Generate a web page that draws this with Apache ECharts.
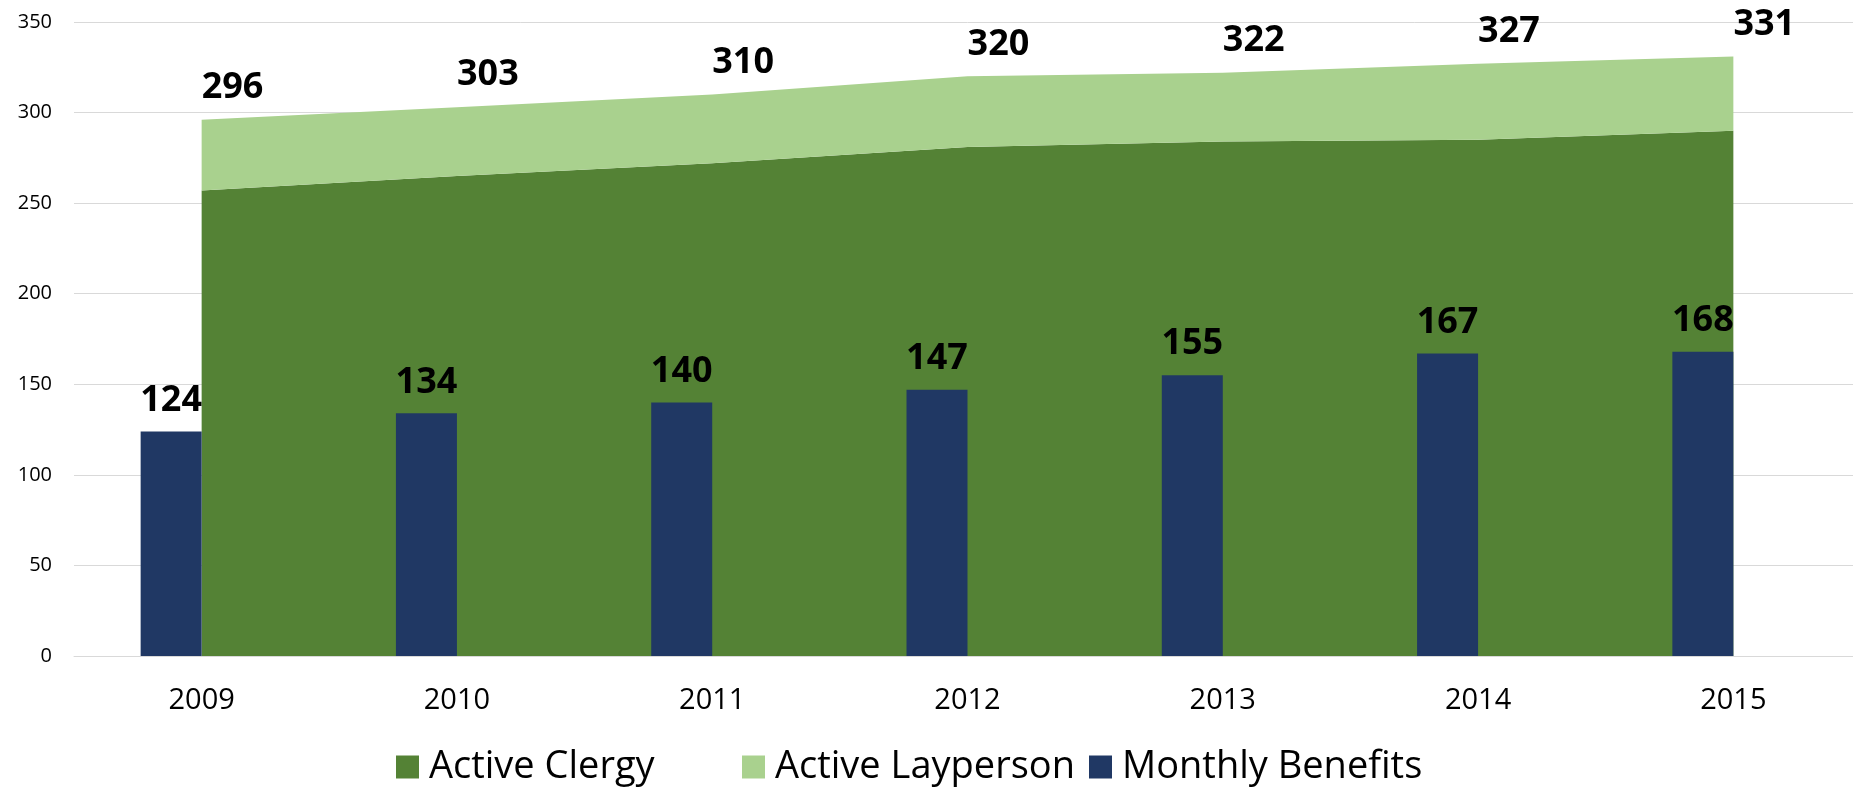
<!DOCTYPE html>
<html>
<head>
<meta charset="utf-8">
<script src="https://cdn.jsdelivr.net/npm/echarts@6/dist/echarts.min.js"></script>
<style>
html,body{margin:0;padding:0;background:#fff;overflow:hidden;}
#chart{width:1861px;height:787px;}
</style>
</head>
<body>
<div id="chart"></div>
<script>
var years = ['2009','2010','2011','2012','2013','2014','2015'];
var activeClergy = [257, 265, 272, 281, 284, 285, 290];
var activeLayperson = [39, 38, 38, 39, 38, 42, 41];
var monthlyBenefits = [124, 134, 140, 147, 155, 167, 168];
var yTicks = [0, 50, 100, 150, 200, 250, 300, 350];

var FONT = '"Open Sans", "Liberation Sans", sans-serif';
var chart = echarts.init(document.getElementById('chart'));

function legendAt(name, left) {
  return {
    data: [name],
    left: left,
    top: 748,
    padding: 0,
    icon: 'rect',
    itemWidth: 23,
    itemHeight: 23,
    textStyle: {fontFamily: FONT, fontSize: 38, color: '#000', padding: [0, 0, 0, 5]},
    selectedMode: false
  };
}

var option = {
  animation: false,
  backgroundColor: '#fff',
  grid: {left: 74, right: 0, top: 22, bottom: 131, containLabel: false, outerBoundsMode: 'none'},
  legend: [
    legendAt('Active Clergy', 396),
    legendAt('Active Layperson', 742),
    legendAt('Monthly Benefits', 1089)
  ],
  xAxis: {
    type: 'category',
    data: years,
    boundaryGap: true,
    axisLine: {show: true, lineStyle: {color: '#d9d9d9', width: 1}},
    axisTick: {show: false},
    axisLabel: {fontFamily: FONT, fontSize: 29, color: '#000', margin: 30}
  },
  yAxis: {
    type: 'value',
    min: yTicks[0],
    max: yTicks[yTicks.length - 1],
    interval: 50,
    axisLine: {show: false},
    axisTick: {show: false},
    axisLabel: {fontFamily: FONT, fontSize: 20, color: '#000', margin: 22},
    splitLine: {lineStyle: {color: '#d9d9d9', width: 1}}
  },
  series: [
    {
      name: 'Active Clergy',
      type: 'line',
      stack: 'total',
      data: activeClergy,
      symbol: 'circle',
      symbolSize: 0.1,
      showSymbol: true,
      lineStyle: {width: 0},
      itemStyle: {color: '#548235'},
      areaStyle: {color: '#548235', opacity: 1},
      z: 1
    },
    {
      name: 'Active Layperson',
      type: 'line',
      stack: 'total',
      data: activeLayperson,
      symbol: 'circle',
      symbolSize: 0.1,
      showSymbol: true,
      lineStyle: {width: 0},
      itemStyle: {color: '#a9d18e'},
      areaStyle: {color: '#a9d18e', opacity: 1},
      label: {
        show: true,
        position: 'right',
        distance: 0,
        offset: [0, -32],
        fontFamily: FONT,
        fontSize: 36,
        fontWeight: 'bold',
        color: '#000',
        formatter: function (p) {
          return activeClergy[p.dataIndex] + activeLayperson[p.dataIndex];
        }
      },
      z: 1
    },
    {
      name: 'Monthly Benefits',
      type: 'bar',
      data: monthlyBenefits,
      barWidth: 61,
      barGap: '0%',
      itemStyle: {color: '#203864'},
      label: {
        show: true,
        position: 'top',
        distance: 13,
        fontFamily: FONT,
        fontSize: 36,
        fontWeight: 'bold',
        color: '#000'
      },
      z: 3
    },
    {
      name: 'spacer',
      type: 'bar',
      data: years.map(function () { return '-'; }),
      barWidth: 61,
      barGap: '0%',
      z: 3
    }
  ]
};
chart.setOption(option);
</script>
</body>
</html>
